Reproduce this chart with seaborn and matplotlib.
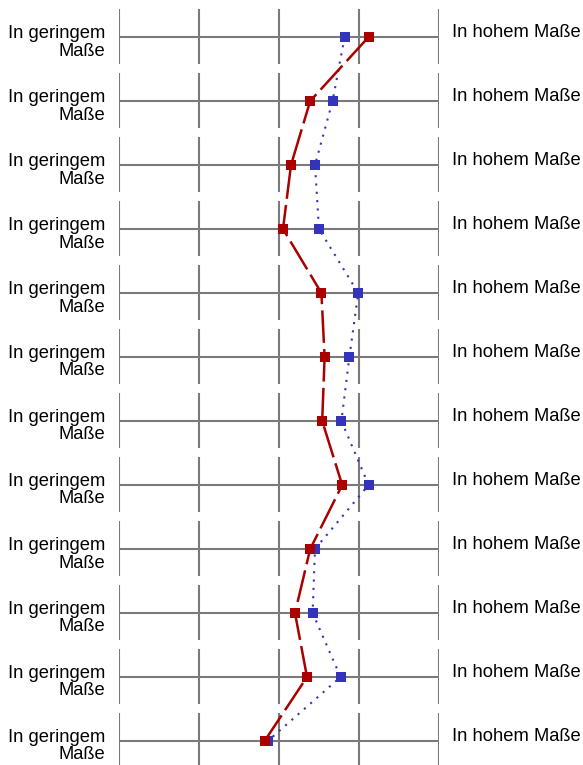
import matplotlib
matplotlib.use("Agg")
import matplotlib.pyplot as plt
import matplotlib.transforms as mtransforms
import seaborn as sns
import pandas as pd
import numpy as np

# ---- data ----
rows = list(range(12))
left_label = "In geringem\nMaße"
right_label = "In hohem Maße"
scale_ticks = [1, 2, 3, 4, 5]
red_values = [4.12, 3.39, 3.15, 3.05, 3.53, 3.57, 3.54, 3.79, 3.39, 3.20, 3.35, 2.82]
blue_values = [3.82, 3.67, 3.45, 3.50, 3.99, 3.88, 3.78, 4.12, 3.45, 3.42, 3.77, 2.86]

sns.set_theme(style="white")
plt.rcParams['font.family'] = ['Liberation Sans', 'DejaVu Sans']

W, H, DPI = 583, 765, 100
fig = plt.figure(figsize=(W / DPI, H / DPI), dpi=DPI)
ax = fig.add_axes([119 / W, 0, 320 / W, 1])
row_px = 64.0

grid_color = "#7a7a7a"
n = len(rows)
# horizontal lines and broken vertical segments
ax.hlines(rows, scale_ticks[0], scale_ticks[-1], color=grid_color, lw=1.5, zorder=1)
for r in rows:
    ax.vlines(scale_ticks, r - 28 / row_px, r + 27 / row_px, color=grid_color, lw=1.5, zorder=1)

df = pd.DataFrame({
    "row": rows * 2,
    "value": blue_values + red_values,
    "series": ["blue"] * n + ["red"] * n,
})

sns.lineplot(data=df[df.series == "blue"], x="value", y="row", sort=False, estimator=None,
             color="#3333bb", lw=1.5, linestyle=(0, (1, 3)), marker="s",
             markersize=6.5, markeredgewidth=0, ax=ax, zorder=3)
sns.lineplot(data=df[df.series == "red"], x="value", y="row", sort=False, estimator=None,
             color="#aa0000", lw=1.8, linestyle=(0, (13, 2.5)), marker="s",
             markersize=6.5, markeredgewidth=0, ax=ax, zorder=4)
ax.set_xlim(1, 5)
ax.set_ylim((H - 37) / row_px, -37 / row_px)
ax.axis("off")
leg = ax.get_legend()
if leg:
    leg.remove()

off_left = mtransforms.offset_copy(ax.transData, fig=fig, x=-14 * 72 / DPI, y=-18.5 * 72 / DPI, units="points")
off_right = mtransforms.offset_copy(ax.transData, fig=fig, x=13 * 72 / DPI, y=0, units="points")
for r in rows:
    ax.text(1, r, left_label, ha="right", va="baseline", multialignment="right",
            fontsize=13.2, linespacing=1.05, transform=off_left, clip_on=False, color="#000000")
    ax.text(5, r, right_label, ha="left", va="baseline",
            fontsize=13.2, transform=off_right, clip_on=False, color="#000000")

fig.savefig("out.png", dpi=DPI, facecolor="white")
